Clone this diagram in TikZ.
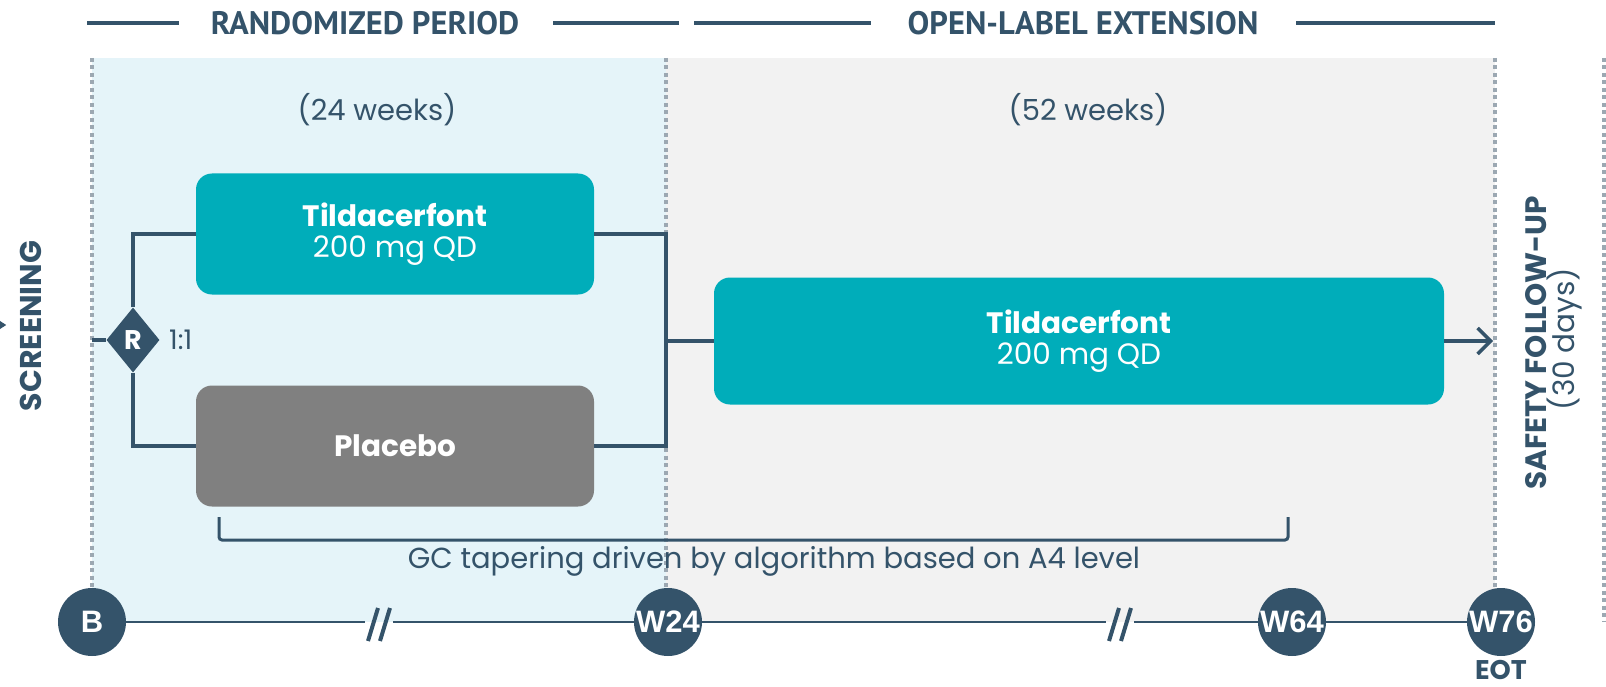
\documentclass[tikz,border=0pt]{standalone}
\usepackage{fontspec}
\setmainfont{Poppins}
\newfontfamily\headfont{PT Sans}
\newfontfamily\visitfont{Liberation Sans}
\usetikzlibrary{arrows.meta,shapes.geometric,calc}

\definecolor{navy}{HTML}{34536A}
\definecolor{armteal}{HTML}{00ADBA}
\definecolor{pbogray}{HTML}{808080}
\definecolor{randbg}{HTML}{E5F4F9}
\definecolor{olebg}{HTML}{F2F2F2}
\definecolor{dotgray}{HTML}{9CA8B2}

\begin{document}
\begin{tikzpicture}[
  x=1pt, y=-1pt,
  every node/.style={
    inner sep=0pt,
    text=navy,
  },
  armbox/.style={
    rectangle,
    rounded corners=16pt,
    fill=armteal,
    text=white,
    align=center,
    minimum width=398pt,
    minimum height=121pt,
    font=\fontsize{29.5}{31}\selectfont,
  },
  pbo/.style={
    armbox,
    fill=pbogray,
  },
  visit/.style={
    circle,
    fill=navy,
    text=white,
    minimum size=68pt,
    font=\visitfont\fontsize{31}{31}\selectfont\bfseries,
  },
  period/.style={
    font=\headfont\fontsize{32.5}{32.5}\selectfont\bfseries,
  },
  conn/.style={
    draw=navy,
    line width=3.5pt,
  },
  headline/.style={
    draw=navy,
    line width=4pt,
  },
  divider/.style={
    draw=dotgray,
    line width=4pt,
    dash pattern=on 4pt off 3.5pt,
  },
]

\useasboundingbox (0,0) rectangle (1606,687);

% Period backgrounds
\fill[randbg] (92,58) rectangle (666,622);
\fill[olebg] (666,58) rectangle (1495,622);

% Dotted dividers
\draw[divider] (92,58) -- (92,590);
\draw[divider] (666,58) -- (666,622);
\draw[divider] (1495,58) -- (1495,590);
\draw[divider] (1604,58) -- (1604,622);

% Period headers
\node[period] (randhead) at (365,23) {RANDOMIZED PERIOD};
\node[period] (olehead) at (1083,23) {OPEN-LABEL EXTENSION};
\draw[headline] (87,23) -- (179,23);
\draw[headline] (553,23) -- (679,23);
\draw[headline] (694,23) -- (871,23);
\draw[headline] (1296,23) -- (1495,23);

\node[font=\fontsize{29}{29}\selectfont] (randdur) at (377,110) {(24 weeks)};
\node[font=\fontsize{29}{29}\selectfont] (oledur) at (1088,110) {(52 weeks)};

% Side labels
\node[rotate=90, font=\fontsize{30}{30}\selectfont\bfseries] (screen) at (31,326) {SCREENING};
\node[rotate=90, font=\fontsize{29.5}{29.5}\selectfont\bfseries] (safety) at (1536,343) {SAFETY FOLLOW-UP};
\node[rotate=90, font=\fontsize{29.5}{29.5}\selectfont] (safetydur) at (1565,339) {(30 days)};

% Randomisation and arms
\node[diamond, fill=navy, text=white, minimum width=53pt, minimum height=65pt,
  font=\fontsize{27}{27}\selectfont\bfseries] (rand) at (133,340) {R};
\node[anchor=west, font=\fontsize{27}{27}\selectfont] (ratio) at (169,340) {1:1};

\node[armbox] (armA) at (395,234) {\textbf{Tildacerfont}\\200 mg QD};
\node[pbo] (armB) at (395,446) {\textbf{Placebo}};
\node[armbox, minimum width=730pt, minimum height=127pt] (ole) at (1079,341)
  {\textbf{Tildacerfont}\\200 mg QD};

\coordinate (enroll) at (92,340);
\coordinate (join) at (666,341);
\coordinate (fu) at (1493,341);
\coordinate (prev) at (3,325);

\draw[conn] (enroll) -- (rand.west);
\draw[conn] (rand.north) |- (armA.west);
\draw[conn] (rand.south) |- (armB.west);
\draw[conn] (armA.east) -| (join) |- (armB.east);
\draw[conn] (join) -- (ole.west);
\draw[conn, -{Straight Barb[length=13pt, width=26pt, line width=3.5pt]}] (ole.east) -- (fu);
\draw[conn] ($(prev)+(-14,-9)$) -- (prev) -- ($(prev)+(-14,9)$);

% GC tapering bracket
\coordinate (tapL) at (219,517);
\coordinate (tapR) at (1288,517);
\draw[conn, line width=3pt, rounded corners=3pt] (tapL) -- ++(0,23) -| (tapR);
\node[font=\fontsize{29}{29}\selectfont] (taper) at (774,561)
  {GC tapering driven by algorithm based on A4 level};

% Visit timeline
\node[visit] (B) at (92,622) {B};
\node[visit] (W24) at (668,622) {W24};
\node[visit] (W64) at (1292,622) {W64};
\node[visit] (W76) at (1501,622) {W76};
\node[font=\fontsize{27}{27}\selectfont\bfseries] (eot) at (1501,670) {EOT};

\coordinate (brkA) at (379,622);
\coordinate (brkB) at (1120,622);
\draw[navy, line width=2pt] (B) -- ($(brkA)+(-14,0)$);
\draw[navy, line width=2pt] ($(brkA)+(14,0)$) -- (W24);
\draw[navy, line width=2pt] (W24) -- ($(brkB)+(-14,0)$);
\draw[navy, line width=2pt] ($(brkB)+(14,0)$) -- (W64);
\draw[navy, line width=2pt] (W64) -- (W76);
\foreach \brk in {brkA,brkB} {
  \draw[navy, line width=4pt] ($(\brk)+(-11,19)$) -- ($(\brk)+(-1,-14)$);
  \draw[navy, line width=4pt] ($(\brk)+(1,19)$) -- ($(\brk)+(11,-14)$);
}

\end{tikzpicture}
\end{document}
